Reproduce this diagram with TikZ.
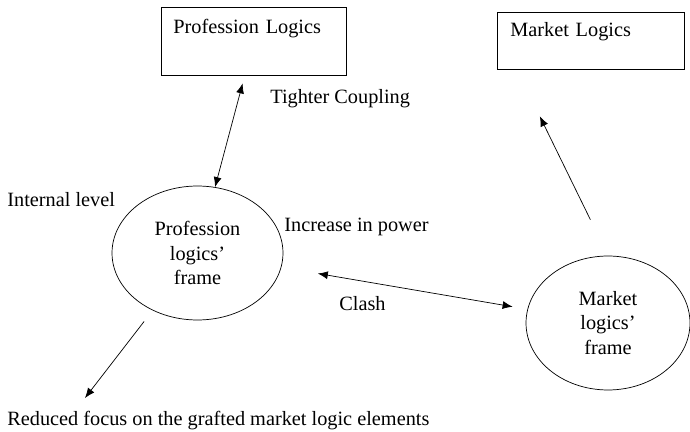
\documentclass[tikz,border=0pt]{standalone}
\usepackage{fontspec}
\setmainfont{Liberation Serif}
\usetikzlibrary{shapes.geometric,arrows.meta}

\begin{document}
\begin{tikzpicture}[
            x = 0.02cm, y = -0.02cm, % one unit per pixel of the figure
            > = {Latex[length=2mm,width=1.6mm]}, % arrow head style
            thin, % line style
            font = \fontsize{11.55}{13.8}\selectfont,
            logicbox/.style = {shape=rectangle, draw=black, align=left, anchor=north west, inner ysep=0pt, text width=3.22cm},
            logicframe/.style = {shape=ellipse, draw=black, align=center, inner sep=0pt, minimum height=2.68cm},
            lbl/.style = {anchor=base west, inner sep=0pt}
        ]
\path[use as bounding box, clip] (0,0) rectangle (690,432);

\node[logicbox, inner xsep=0.24cm, text height=0.52cm, text depth=0.84cm] (PL) at (161,7) {Profession Logics};
\node[logicbox, inner xsep=0.26cm, text height=0.48cm, text depth=0.66cm] (ML) at (497,12) {Market Logics};

\node[logicframe, minimum width=3.42cm] (PF) at (197.5,253) {Profession\\logics’\\frame};
\node[logicframe, minimum width=3.28cm] (MF) at (608,323) {Market\\logics’\\frame};

\node[lbl] (tight) at (270,104) {Tighter Coupling};
\node[lbl] (internal) at (7,207) {Internal level};
\node[lbl] (power) at (284,232) {Increase in power};
\node[lbl] (clash) at (339,311) {Clash};
\node[lbl] (RF) at (7,425) {Reduced focus on the grafted market logic elements};
\coordinate (RF_end) at (85,398);

 \path [<->, shorten <= 0.16cm] (PL) edge (PF);
 \path [<->, shorten <= 0.74cm, shorten >= 0.3cm] (PF) edge (MF);
 \path [->, shorten <= 0.8cm, shorten >= 1.04cm] (MF.north) edge ([xshift=0.4cm]ML.south west);
 \path [->, shorten <= 0.28cm] (PF.232) edge (RF_end);
\end{tikzpicture}
\end{document}
